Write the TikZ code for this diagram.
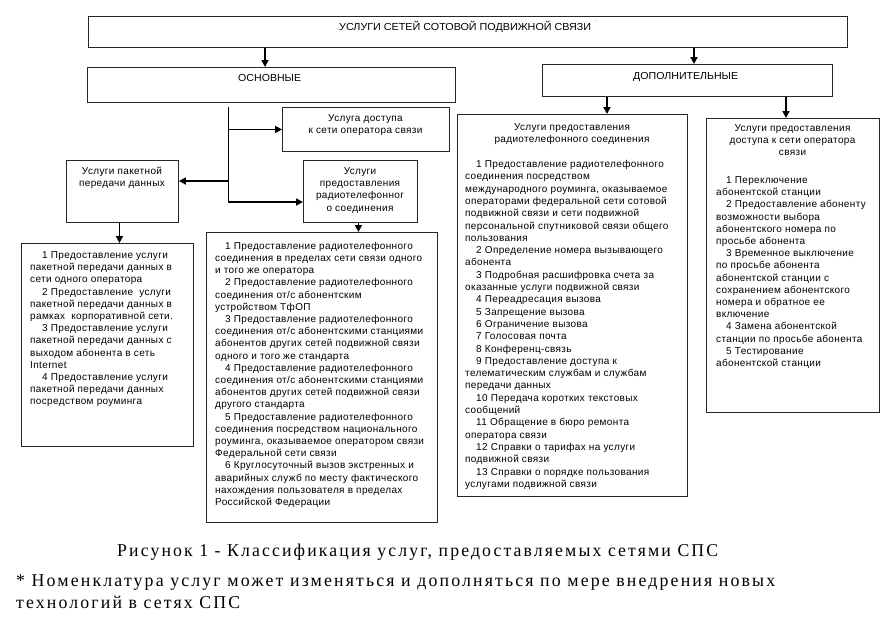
\documentclass[tikz,border=0pt]{standalone}
\usepackage{fontspec}
\setmainfont{Liberation Sans}
\newfontfamily\bodyfont[LetterSpace=3.5]{Liberation Sans}
\newfontfamily\capfont[LetterSpace=12]{Liberation Serif}
\usetikzlibrary{arrows.meta}
\begin{document}
\begin{tikzpicture}[x=1pt,y=-1pt,
  box/.style={draw=black!85, line width=0.9pt, inner sep=0, anchor=north west},
  arr/.style={line width=1.7pt, -{Triangle[length=7pt,width=7pt]}},
  conn/.style={line width=0.9pt},
  body/.style={inner sep=0, align=left, anchor=base west, font=\bodyfont\fontsize{10}{12.2}\selectfont},
  ctitle/.style={inner sep=0, align=center, anchor=base, font=\bodyfont\fontsize{10}{12.2}\selectfont},
  head/.style={inner sep=0, anchor=base west, font=\fontsize{10.2}{12}\selectfont},
  capt/.style={inner sep=0, anchor=base west, font=\capfont\fontsize{18}{22}\selectfont},
]
\useasboundingbox (0,0) rectangle (887,624);
\fill[white] (0,0) rectangle (887,624);

% boxes
\node[box, minimum width=759pt, minimum height=31pt] (top) at (88,16) {};
\node[box, minimum width=368pt, minimum height=35pt] (osn) at (87,67) {};
\node[box, minimum width=290pt, minimum height=32pt] (dop) at (542,64) {};
\node[box, minimum width=167pt, minimum height=44pt] (dostup) at (282,107) {};
\node[box, minimum width=112pt, minimum height=62pt] (paket) at (66,160) {};
\node[box, minimum width=114pt, minimum height=62pt] (radio) at (303,160) {};
\node[box, minimum width=172pt, minimum height=203pt] (paketlist) at (21,243) {};
\node[box, minimum width=231pt, minimum height=290pt] (radiolist) at (206,232) {};
\node[box, minimum width=230pt, minimum height=382pt] (dopradio) at (457,114) {};
\node[box, minimum width=173pt, minimum height=294pt] (dopaccess) at (706,118) {};

% headers
\node[head] (ttop) at (339,30) {\resizebox{252pt}{\height}{УСЛУГИ СЕТЕЙ СОТОВОЙ ПОДВИЖНОЙ СВЯЗИ}};
\node[inner sep=0, text=black!35, font=\fontsize{5}{5}\selectfont] (star) at (596,22) {*};
\node[head] (tosn) at (238,81.5) {\resizebox{63pt}{\height}{ОСНОВНЫЕ}};
\node[head] (tdop) at (633,79.5) {\resizebox{105pt}{\height}{ДОПОЛНИТЕЛЬНЫЕ}};

% small box texts (anchor = baseline of last line)
\node[ctitle] (tdostup) at (365.5,133.7) {Услуга доступа\\к сети оператора связи};
\node[ctitle] (tpaket) at (122,186.7) {Услуги пакетной\\передачи данных};
\node[ctitle] (tradio) at (360,211.1) {Услуги\\предоставления\\радиотелефонног\\о соединения};

% list texts
\node[body] (lpaket) at (30,404.9) {%
\hspace*{12pt}1 Предоставление услуги\\
пакетной передачи данных в\\
сети одного оператора\\
\hspace*{12pt}2 Предоставление \ услуги\\
пакетной передачи данных в\\
рамках \ корпоративной сети.\\
\hspace*{12pt}3 Предоставление услуги\\
пакетной передачи данных с\\
выходом абонента в сеть\\
Internet\\
\hspace*{12pt}4 Предоставление услуги\\
пакетной передачи данных\\
посредством роуминга};

\node[body] (lradio) at (215,505.4) {%
\hspace*{10pt}1 Предоставление радиотелефонного\\
соединения в пределах сети связи одного\\
и того же оператора\\
\hspace*{10pt}2 Предоставление радиотелефонного\\
соединения от/с абонентским\\
устройством ТфОП\\
\hspace*{10pt}3 Предоставление радиотелефонного\\
соединения от/с абонентскими станциями\\
абонентов других сетей подвижной связи\\
одного и того же стандарта\\
\hspace*{10pt}4 Предоставление радиотелефонного\\
соединения от/с абонентскими станциями\\
абонентов других сетей подвижной связи\\
другого стандарта\\
\hspace*{10pt}5 Предоставление радиотелефонного\\
соединения посредством национального\\
роуминга, оказываемое оператором связи\\
Федеральной сети связи\\
\hspace*{10pt}6 Круглосуточный вызов экстренных и\\
аварийных служб по месту фактического\\
нахождения пользователя в пределах\\
Российской Федерации};

\node[ctitle] (tdopradio) at (572,142.7) {Услуги предоставления\\радиотелефонного соединения};
\node[body, font=\bodyfont\fontsize{10}{12.3}\selectfont] (ldopradio) at (465,487.3) {%
\hspace*{11pt}1 Предоставление радиотелефонного\\
соединения посредством\\
международного роуминга, оказываемое\\
операторами федеральной сети сотовой\\
подвижной связи и сети подвижной\\
персональной спутниковой связи общего\\
пользования\\
\hspace*{11pt}2 Определение номера вызывающего\\
абонента\\
\hspace*{11pt}3 Подробная расшифровка счета за\\
оказанные услуги подвижной связи\\
\hspace*{11pt}4 Переадресация вызова\\
\hspace*{11pt}5 Запрещение вызова\\
\hspace*{11pt}6 Ограничение вызова\\
\hspace*{11pt}7 Голосовая почта\\
\hspace*{11pt}8 Конференц-связь\\
\hspace*{11pt}9 Предоставление доступа к\\
телематическим службам и службам\\
передачи данных\\
\hspace*{11pt}10 Передача коротких текстовых\\
сообщений\\
\hspace*{11pt}11 Обращение в бюро ремонта\\
оператора связи\\
\hspace*{11pt}12 Справки о тарифах на услуги\\
подвижной связи\\
\hspace*{11pt}13 Справки о порядке пользования\\
услугами подвижной связи};

\node[ctitle] (tdopaccess) at (792.5,155.9) {Услуги предоставления\\доступа к сети оператора\\связи};
\node[body] (ldopaccess) at (716,366.5) {%
\hspace*{10pt}1 Переключение\\
абонентской станции\\
\hspace*{10pt}2 Предоставление абоненту\\
возможности выбора\\
абонентского номера по\\
просьбе абонента\\
\hspace*{10pt}3 Временное выключение\\
по просьбе абонента\\
абонентской станции с\\
сохранением абонентского\\
номера и обратное ее\\
включение\\
\hspace*{10pt}4 Замена абонентской\\
станции по просьбе абонента\\
\hspace*{10pt}5 Тестирование\\
абонентской станции};

% connectors
\coordinate (xa) at (265,0);
\coordinate (xb) at (694,0);
\coordinate (xc) at (607,0);
\coordinate (xd) at (786,0);
\coordinate (vtop) at (228,107);
\coordinate (vbot) at (228,202);
\coordinate (jp) at (228,181);
\draw[arr] (top.south -| xa) -- (osn.north -| xa);
\draw[arr] (top.south -| xb) -- (dop.north -| xb);
\draw[arr] (dop.south -| xc) -- (dopradio.north -| xc);
\draw[arr] (dop.south -| xd) -- (dopaccess.north -| xd);
\draw[conn] (vtop) -- (vbot);
\draw[arr] (vtop |- dostup.west) -- (dostup.west);
\draw[arr] (jp) -- (paket.east |- jp);
\draw[arr] (vbot) -- (radio.west |- vbot);
\draw[arr] ([xshift=-3pt]paket.south) -- ([xshift=-3pt]paket.south |- paketlist.north);
\draw[arr] ([xshift=-2pt]radio.south) -- ([xshift=-2pt]radio.south |- radiolist.north);

% caption
\node[capt] (cap) at (117,556) {\resizebox{601pt}{\height}{Рисунок 1 - Классификация услуг, предоставляемых сетями СПС}};
\node[capt] (fn1) at (16,586) {\resizebox{759pt}{\height}{* Номенклатура услуг может изменяться и дополняться по мере внедрения новых}};
\node[capt] (fn2) at (16,608) {\resizebox{224pt}{\height}{технологий в сетях СПС}};
\end{tikzpicture}
\end{document}
